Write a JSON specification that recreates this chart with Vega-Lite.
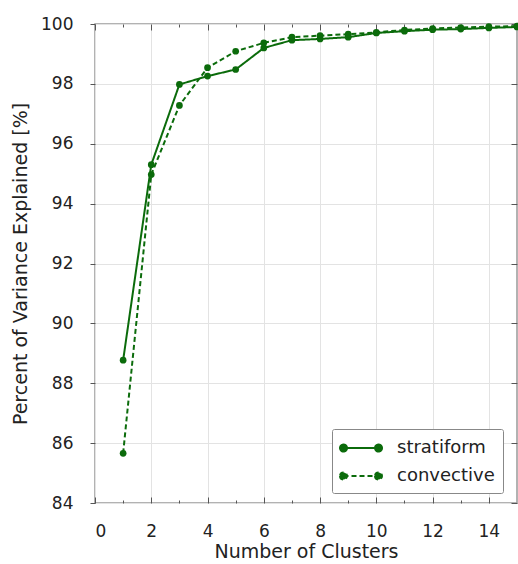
{
  "$schema": "https://vega.github.io/schema/vega-lite/v6.json",
  "width": 422,
  "height": 479,
  "autosize": {"type": "none"},
  "padding": {"left": 95, "top": 24, "right": 1, "bottom": 61},
  "background": "white",
  "config": {
    "font": "DejaVu Sans",
    "view": {"stroke": "#999999", "strokeWidth": 1.5},
    "axis": {"labelFont": "DejaVu Sans", "titleFont": "DejaVu Sans", "labelFontSize": 17, "titleFontSize": 19, "labelColor": "#222", "titleColor": "#222", "titleFontWeight": "normal", "domain": false, "tickColor": "#555", "gridColor": "#e3e3e3", "gridWidth": 1}
  },
  "data": {"values": [
    {"k": 1, "v": 88.77, "s": "stratiform"},
    {"k": 2, "v": 95.3, "s": "stratiform"},
    {"k": 3, "v": 97.98, "s": "stratiform"},
    {"k": 4, "v": 98.26, "s": "stratiform"},
    {"k": 5, "v": 98.48, "s": "stratiform"},
    {"k": 6, "v": 99.2, "s": "stratiform"},
    {"k": 7, "v": 99.46, "s": "stratiform"},
    {"k": 8, "v": 99.5, "s": "stratiform"},
    {"k": 9, "v": 99.56, "s": "stratiform"},
    {"k": 10, "v": 99.7, "s": "stratiform"},
    {"k": 11, "v": 99.76, "s": "stratiform"},
    {"k": 12, "v": 99.81, "s": "stratiform"},
    {"k": 13, "v": 99.83, "s": "stratiform"},
    {"k": 14, "v": 99.87, "s": "stratiform"},
    {"k": 15, "v": 99.9, "s": "stratiform"},
    {"k": 1, "v": 85.66, "s": "convective"},
    {"k": 2, "v": 94.97, "s": "convective"},
    {"k": 3, "v": 97.28, "s": "convective"},
    {"k": 4, "v": 98.54, "s": "convective"},
    {"k": 5, "v": 99.09, "s": "convective"},
    {"k": 6, "v": 99.37, "s": "convective"},
    {"k": 7, "v": 99.56, "s": "convective"},
    {"k": 8, "v": 99.61, "s": "convective"},
    {"k": 9, "v": 99.66, "s": "convective"},
    {"k": 10, "v": 99.72, "s": "convective"},
    {"k": 11, "v": 99.8, "s": "convective"},
    {"k": 12, "v": 99.85, "s": "convective"},
    {"k": 13, "v": 99.88, "s": "convective"},
    {"k": 14, "v": 99.91, "s": "convective"},
    {"k": 15, "v": 99.93, "s": "convective"}
  ]},
  "resolve": {"axis": {"x": "independent", "y": "independent"}},
  "layer": [
    {
      "mark": {"type": "line", "color": "#0b6b0b", "strokeWidth": 2, "point": {"filled": true, "size": 45, "color": "#0b6b0b"}},
      "encoding": {
        "x": {"field": "k", "type": "quantitative", "scale": {"domain": [0, 15], "nice": false, "zero": false},
              "axis": {"orient": "bottom", "values": [0, 2, 4, 6, 8, 10, 12, 14], "title": "Number of Clusters", "tickSize": -6, "labelPadding": 26, "titlePadding": 3, "grid": true}},
        "y": {"field": "v", "type": "quantitative", "scale": {"domain": [84, 100], "nice": false, "zero": false},
              "axis": {"orient": "left", "values": [84, 86, 88, 90, 92, 94, 96, 98, 100], "title": "Percent of Variance Explained [%]", "tickSize": 5, "labelPadding": 17, "titlePadding": 10, "grid": true}},
        "strokeDash": {"field": "s", "type": "nominal",
          "scale": {"domain": ["stratiform", "convective"], "range": [[1, 0], [5, 3]]},
          "legend": {"title": null, "orient": "none", "legendX": 237, "legendY": 405, "labelFontSize": 18, "labelColor": "#222", "labelFont": "DejaVu Sans",
                     "symbolType": "M-1.75,0L1.75,0M-2.1,0a0.35,0.35 0 1,0 0.7,0a0.35,0.35 0 1,0 -0.7,0M1.4,0a0.35,0.35 0 1,0 0.7,0a0.35,0.35 0 1,0 -0.7,0",
                     "symbolSize": 400, "symbolStrokeColor": "#0b6b0b", "symbolFillColor": "#0b6b0b", "symbolStrokeWidth": 2,
                     "fillColor": "white", "strokeColor": "#888", "padding": 8, "rowPadding": 8, "labelOffset": 25, "symbolOffset": 10, "cornerRadius": 2,
                     "encode": {"symbols": {"update": {"stroke": {"value": "#0b6b0b"}, "strokeWidth": {"value": 2}, "opacity": {"value": 1}, "fill": {"value": "#0b6b0b"}}}}}}
      }
    },
    {
      "mark": {"type": "point", "opacity": 0},
      "encoding": {
        "x": {"field": "k", "type": "quantitative", "axis": {"orient": "top", "values": [0, 2, 4, 6, 8, 10, 12, 14], "labels": false, "title": null, "tickSize": -6, "grid": false}},
        "y": {"field": "v", "type": "quantitative", "axis": {"orient": "right", "values": [84, 86, 88, 90, 92, 94, 96, 98, 100], "labels": false, "title": null, "tickSize": -6, "grid": false}}
      }
    },
    {
      "mark": {"type": "point", "opacity": 0},
      "encoding": {
        "x": {"field": "k", "type": "quantitative", "axis": {"orient": "bottom", "values": [1, 3, 5, 7, 9, 11, 13], "labels": false, "title": null, "tickSize": -3, "grid": false}},
        "y": {"field": "v", "type": "quantitative", "axis": null}
      }
    },
    {
      "mark": {"type": "point", "opacity": 0},
      "encoding": {
        "x": {"field": "k", "type": "quantitative", "axis": {"orient": "top", "values": [1, 3, 5, 7, 9, 11, 13], "labels": false, "title": null, "tickSize": -3, "grid": false}},
        "y": {"field": "v", "type": "quantitative", "axis": null}
      }
    }
  ]
}
